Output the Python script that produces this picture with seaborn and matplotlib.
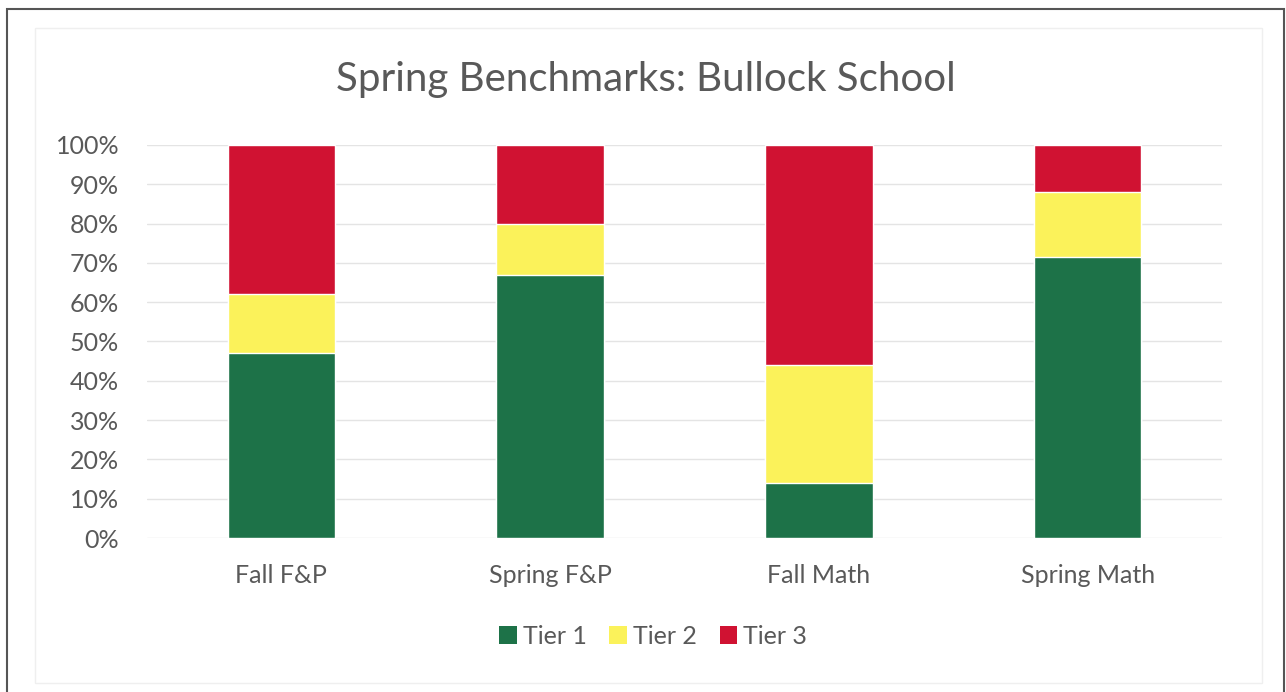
import matplotlib
matplotlib.use("Agg")
import matplotlib.pyplot as plt
import matplotlib.patches as mpatches
import matplotlib.ticker as ticker
import numpy as np
import pandas as pd
import seaborn as sns

# data (percent of students)
categories = ["Fall F&P", "Spring F&P", "Fall Math", "Spring Math"]
tier1 = [47, 67, 14, 71.5]
tier2 = [15, 13, 30, 16.5]
tier3 = [38, 20, 56, 12]
tiers = ["Tier 1", "Tier 2", "Tier 3"]

colors = {"Tier 1": "#1d7248", "Tier 2": "#fbf25a", "Tier 3": "#d01232"}
txt = "#595959"

sns.set_theme(style="white")
plt.rcParams["font.family"] = ["Lato", "DejaVu Sans"]

fig = plt.figure(figsize=(12.86, 6.92), dpi=100)
ax = fig.add_axes([147 / 1286, 1 - 538 / 692, 1075 / 1286, 393 / 692])

# stacked bars: draw cumulative totals back to front
vals = np.array([tier1, tier2, tier3], dtype=float) / 100.0
cum = np.cumsum(vals, axis=0)
for i in [2, 1, 0]:
    df = pd.DataFrame({"cat": categories, "val": cum[i]})
    sns.barplot(data=df, x="cat", y="val", color=colors[tiers[i]],
                saturation=1, width=0.4, ax=ax, zorder=2)

ax.set_ylim(0, 1)
ax.set_xlim(-0.5, 3.5)
ax.yaxis.set_major_locator(ticker.MultipleLocator(0.1))
ax.yaxis.set_major_formatter(ticker.PercentFormatter(1.0, decimals=0))
ax.grid(axis="y", color="#e4e4e4", linewidth=1, zorder=0)
ax.set_axisbelow(True)
for s in ax.spines.values():
    s.set_visible(False)
ax.set_xlabel("")
ax.set_ylabel("")
ax.tick_params(axis="y", length=0, pad=20, labelsize=18, labelcolor=txt)
ax.tick_params(axis="x", length=0, pad=19, labelsize=18, labelcolor=txt)

fig.text(0.502, 1 - 80 / 692, "Spring Benchmarks: Bullock School",
         ha="center", va="center", fontsize=29, color=txt)

handles = [mpatches.Patch(facecolor=colors[t], edgecolor="none", label=t) for t in tiers]
fig.legend(handles=handles, loc="center", bbox_to_anchor=(0.508, 1 - 636 / 692),
           ncol=3, frameon=False, fontsize=18, labelcolor=txt,
           handlelength=0.7, handleheight=0.7, handletextpad=0.25, columnspacing=0.9)

# scanned page frame and faint chart area border
fig.patches.append(mpatches.Rectangle((7 / 1286, -0.02), 1277 / 1286, 1 - 9 / 692 + 0.02,
                                      transform=fig.transFigure, fill=False,
                                      edgecolor="#555555", linewidth=1.5))
fig.patches.append(mpatches.Rectangle((35 / 1286, 1 - 683 / 692), 1227 / 1286, 655 / 692,
                                      transform=fig.transFigure, fill=False,
                                      edgecolor="#efefef", linewidth=1))

fig.savefig("out.png", dpi=100)
